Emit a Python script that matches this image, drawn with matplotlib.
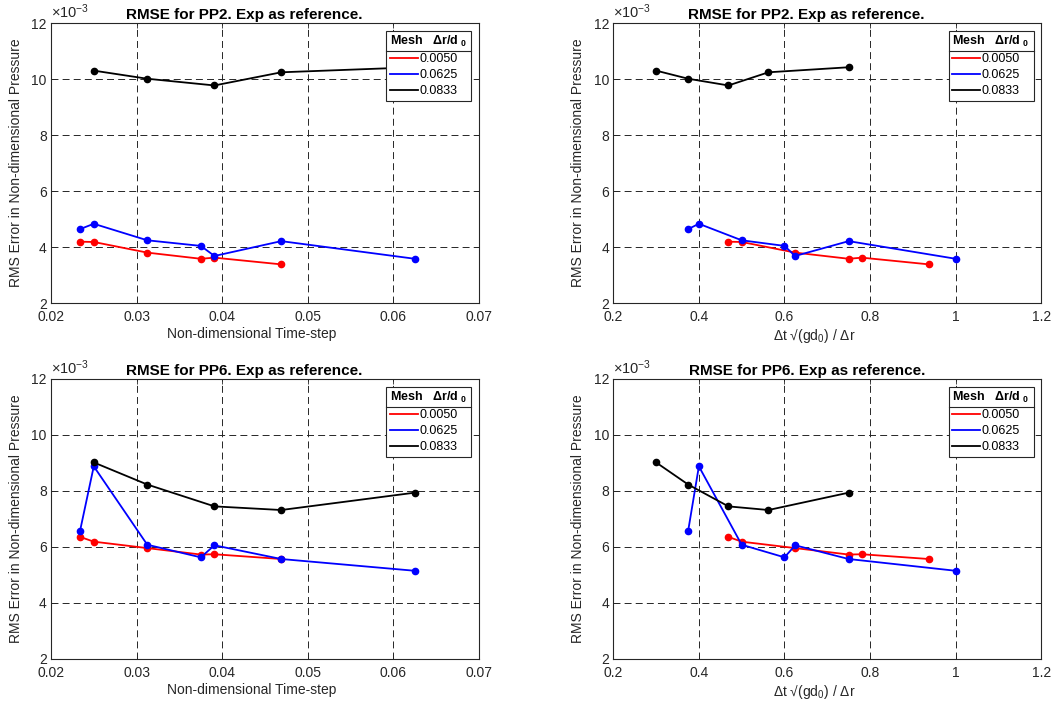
"""RMSE of non-dimensional pressure vs time-step for PP2 and PP6 (MATLAB-style 2x2)."""

import matplotlib
matplotlib.use("Agg")
import matplotlib.pyplot as plt
from matplotlib.lines import Line2D

# ---- data (y in units of 1e-3) ----
MESHES = ["0.0050", "0.0625", "0.0833"]
COLORS = ["#FF0000", "#0000FF", "#000000"]

# non-dimensional time-step
DT_RED = [0.0234, 0.0250, 0.03125, 0.0375, 0.0391, 0.0469]
DT_BLUE = [0.0234, 0.0250, 0.03125, 0.0375, 0.0391, 0.0469, 0.0625]
DT_BLACK = [0.0250, 0.03125, 0.0391, 0.0469, 0.0625]

# dt*sqrt(g d0)/dr
CFL_RED = [0.469, 0.500, 0.625, 0.750, 0.781, 0.9375]
CFL_BLUE = [0.375, 0.400, 0.500, 0.600, 0.625, 0.750, 1.000]
CFL_BLACK = [0.300, 0.375, 0.469, 0.5625, 0.750]

PP2_RED = [4.19, 4.18, 3.80, 3.58, 3.62, 3.38]
PP2_BLUE = [4.64, 4.83, 4.24, 4.04, 3.68, 4.21, 3.58]
PP2_BLACK = [10.30, 10.01, 9.77, 10.24, 10.42]

PP6_RED = [6.36, 6.19, 5.96, 5.73, 5.74, 5.57]
PP6_BLUE = [6.58, 8.88, 6.08, 5.63, 6.06, 5.57, 5.15]
PP6_BLACK = [9.02, 8.23, 7.45, 7.32, 7.94]

YTICKS = [2, 4, 6, 8, 10, 12]
XTICKS_DT = [0.02, 0.03, 0.04, 0.05, 0.06, 0.07]
XTICKS_CFL = [0.2, 0.4, 0.6, 0.8, 1.0, 1.2]
XTICKLABELS_CFL = ["0.2", "0.4", "0.6", "0.8", "1", "1.2"]

INK = "#262626"

plt.rcParams.update({
    "font.family": ["Liberation Sans", "DejaVu Sans"],
    "font.size": 10,
    "mathtext.fontset": "custom",
    "mathtext.rm": "Liberation Sans",
    "mathtext.it": "Liberation Sans:italic",
    "mathtext.bf": "Liberation Sans:bold",
    "lines.scale_dashes": False,
    "axes.edgecolor": INK,
    "axes.linewidth": 0.8,
    "xtick.color": INK,
    "ytick.color": INK,
    "xtick.direction": "in",
    "ytick.direction": "in",
    "xtick.major.size": 3.5,
    "ytick.major.size": 3.5,
    "xtick.major.width": 0.6,
    "ytick.major.width": 0.6,
})

fig = plt.figure(figsize=(10.53, 7.06), dpi=100)
W, H = 0.4065, 0.3966
positions = [
    (0.0484, 0.5708), (0.5824, 0.5708),
    (0.0484, 0.0666), (0.5824, 0.0666),
]

panels = [
    ("PP2", (DT_RED, DT_BLUE, DT_BLACK), (PP2_RED, PP2_BLUE, PP2_BLACK), "dt"),
    ("PP2", (CFL_RED, CFL_BLUE, CFL_BLACK), (PP2_RED, PP2_BLUE, PP2_BLACK), "cfl"),
    ("PP6", (DT_RED, DT_BLUE, DT_BLACK), (PP6_RED, PP6_BLUE, PP6_BLACK), "dt"),
    ("PP6", (CFL_RED, CFL_BLUE, CFL_BLACK), (PP6_RED, PP6_BLUE, PP6_BLACK), "cfl"),
]

legends = []
for (left, bottom), (name, xs, ys, kind) in zip(positions, panels):
    ax = fig.add_axes([left, bottom, W, H])
    for x, y, c in zip(xs, ys, COLORS):
        ax.plot(x, y, color=c, lw=1.3, marker="o", ms=4.5)

    if kind == "dt":
        ax.set_xlim(0.02, 0.07)
        ax.set_xticks(XTICKS_DT)
        ax.set_xticklabels([f"{t:.2f}" for t in XTICKS_DT])
        ax.set_xlabel("Non-dimensional Time-step", color=INK)
    else:
        ax.set_xlim(0.2, 1.2)
        ax.set_xticks(XTICKS_CFL)
        ax.set_xticklabels(XTICKLABELS_CFL)
        ax.set_xlabel("Δt √(gd$_0$) / Δr", color=INK)
    ax.xaxis.set_label_coords(0.47, -0.085)

    ax.set_ylim(2, 12)
    ax.set_yticks(YTICKS)
    ax.set_ylabel("RMS Error in Non-dimensional Pressure", color=INK)
    ax.yaxis.set_label_coords(-0.065, 0.5)
    ax.tick_params(top=True, right=True)
    ax.tick_params(axis="x", pad=5)
    ax.tick_params(axis="y", pad=3)
    ax.grid(True, color=INK, linestyle=(0, (5, 3)), linewidth=0.7)
    for s in ax.spines.values():
        s.set_zorder(3)

    ax.text(0.0, 1.008, "×10$^{-3}$", transform=ax.transAxes,
            ha="left", va="bottom", color=INK, fontsize=10.5)
    ax.set_title(f"RMSE for {name}. Exp as reference.", fontsize=11,
                 fontweight="bold", x=0.452, pad=3)

    handles = [Line2D([], [], color=c, lw=1.3) for c in COLORS]
    leg = ax.legend(handles, MESHES, loc="upper right",
                    bbox_to_anchor=(0.982, 0.973),
                    title="Mesh   Δr/d $_\\mathbf{0}$", alignment="left",
                    fontsize=9, title_fontproperties={"weight": "bold", "size": 9},
                    fancybox=False, framealpha=1, edgecolor=INK,
                    handlelength=2.2, handletextpad=0.15, labelspacing=0.32,
                    borderpad=0.3, borderaxespad=0)
    leg.get_frame().set_linewidth(0.8)
    legends.append(leg)

# separator line under the legend header (MATLAB-style legend title)
fig.canvas.draw()
inv = fig.transFigure.inverted()
for leg in legends:
    fb = leg.get_frame().get_window_extent()
    tb = leg.get_title().get_window_extent()
    ysep = tb.y0 - 2
    (x0, y0), (x1, _) = inv.transform([(fb.x0, ysep), (fb.x1, ysep)])
    fig.add_artist(Line2D([x0, x1], [y0, y0], transform=fig.transFigure,
                          color=INK, lw=0.8, zorder=10))

fig.savefig("out.png", dpi=100)
